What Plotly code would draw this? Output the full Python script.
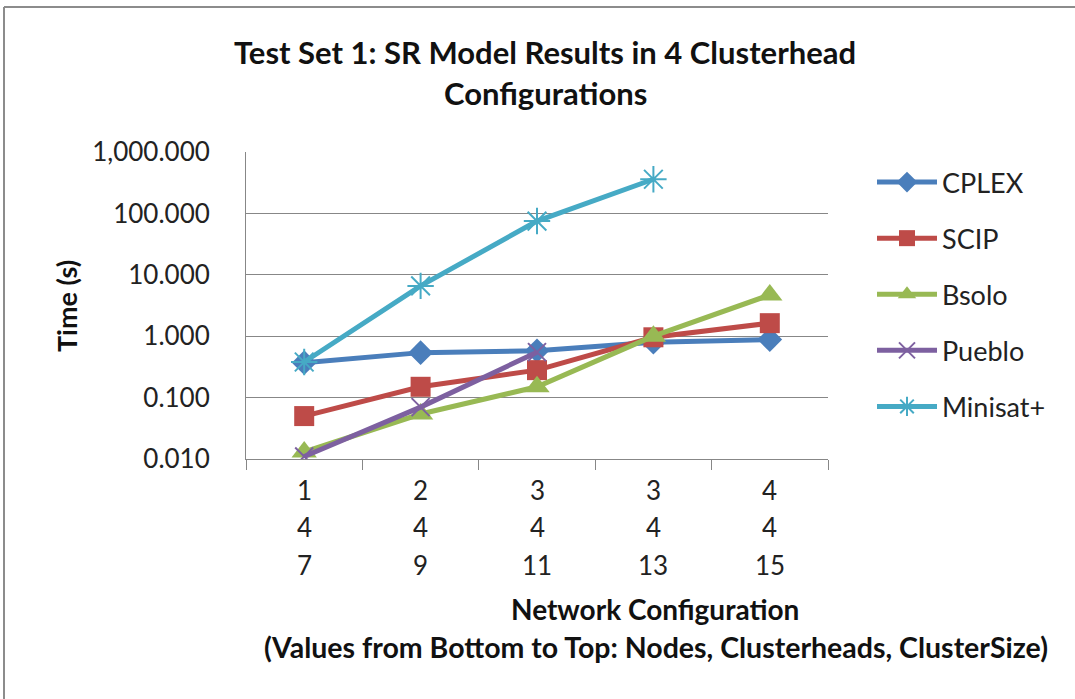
import plotly.graph_objects as go

# ---- data ----
configs = [1, 2, 3, 4, 5]
cluster_size = ["1", "2", "3", "3", "4"]
clusterheads = ["4", "4", "4", "4", "4"]
nodes = ["7", "9", "11", "13", "15"]

cplex = [0.37, 0.54, 0.58, 0.80, 0.88]
scip = [0.050, 0.15, 0.28, 0.96, 1.63]
bsolo = [0.013, 0.054, 0.15, 1.0, 4.7]
pueblo = [0.011, 0.070, 0.55, None, None]
minisat = [0.38, 6.6, 75, 360, None]

y_tickvals = [0.01, 0.1, 1, 10, 100, 1000]
y_ticktext = ["0.010", "0.100", "1.000", "10.000", "100.000", "1,000.000"]

FONT = "Lato, 'Open Sans', sans-serif"
W, H = 1075, 699
L, R, T, B = 246, 828, 152, 459
pw, ph = R - L, B - T

def px_x(p):
    return (p - L) / pw

def px_y(p):
    return (B - p) / ph

series = [
    ("CPLEX", cplex, "#4A7EBB", "diamond", 19, 0),
    ("SCIP", scip, "#BE4B48", "square", 20, 0),
    ("Bsolo", bsolo, "#98B954", "triangle-up", 22, 0),
    ("Pueblo", pueblo, "#7D60A0", "x-thin", 18, 2),
    ("Minisat+", minisat, "#46AAC5", "asterisk", 22, 2),
]

fig = go.Figure()
for name, vals, col, sym, size, mlw in series:
    fig.add_trace(go.Scatter(
        x=configs, y=vals, name=name, mode="lines+markers",
        line=dict(color=col, width=5),
        marker=dict(symbol=sym, size=size, color=col,
                    line=dict(color=col, width=mlw)),
        legendgroup=name,
        connectgaps=False,
    ))

annotations = []
rows = [(cluster_size, 490), (clusterheads, 527), (nodes, 565)]
for labels, ypix in rows:
    for xv, lab in zip(configs, labels):
        annotations.append(dict(
            x=xv, xref="x", y=px_y(ypix), yref="paper", text=lab,
            showarrow=False, font=dict(family=FONT, size=26, color="#222222"),
            xanchor="center", yanchor="middle"))

annotations += [
    dict(x=px_x(545), y=px_y(52), xref="paper", yref="paper",
         text="<b>Test Set 1: SR Model Results in 4 Clusterhead</b>",
         showarrow=False, font=dict(family=FONT, size=31, color="#111111"),
         xanchor="center", yanchor="middle"),
    dict(x=px_x(545), y=px_y(93), xref="paper", yref="paper",
         text="<b>Configurations</b>",
         showarrow=False, font=dict(family=FONT, size=31, color="#111111"),
         xanchor="center", yanchor="middle"),
    dict(x=px_x(655), y=px_y(609), xref="paper", yref="paper",
         text="<b>Network Configuration</b>",
         showarrow=False, font=dict(family=FONT, size=28, color="#111111"),
         xanchor="center", yanchor="middle"),
    dict(x=px_x(656), y=px_y(647), xref="paper", yref="paper",
         text="<b>(Values from Bottom to Top: Nodes, Clusterheads, ClusterSize)</b>",
         showarrow=False, font=dict(family=FONT, size=28.5, color="#111111"),
         xanchor="center", yanchor="middle"),
    dict(x=px_x(66), y=px_y(306), xref="paper", yref="paper",
         text="<b>Time (s)</b>", textangle=-90,
         showarrow=False, font=dict(family=FONT, size=27, color="#111111"),
         xanchor="center", yanchor="middle"),
]

border = dict(color="#8C8C8C", width=2)
fig.update_layout(
    width=W, height=H,
    margin=dict(l=L, r=W - R, t=T, b=H - B),
    paper_bgcolor="white", plot_bgcolor="white",
    showlegend=True,
    legend=dict(x=px_x(872), y=px_y(158), xanchor="left", yanchor="top",
                font=dict(family=FONT, size=27, color="#222222"),
                tracegroupgap=18, itemwidth=60, bgcolor="rgba(0,0,0,0)"),
    annotations=annotations,
    shapes=[
        dict(type="line", xref="paper", yref="paper",
             x0=px_x(4), x1=px_x(1075), y0=px_y(7), y1=px_y(7), line=border),
        dict(type="line", xref="paper", yref="paper",
             x0=px_x(4), x1=px_x(4), y0=px_y(7), y1=px_y(699), line=border),
    ],
)

fig.update_xaxes(
    range=[0.5, 5.5], tickmode="linear", tick0=0.5, dtick=1,
    showticklabels=False, ticks="outside", ticklen=10, tickcolor="#878787",
    showgrid=False, showline=True, linecolor="#878787", linewidth=1,
    zeroline=False,
)
fig.update_yaxes(
    type="log", range=[-2, 3], tickvals=y_tickvals, ticktext=y_ticktext,
    tickfont=dict(family=FONT, size=26, color="#222222"),
    ticks="", ticklabelstandoff=30,
    showgrid=True, gridcolor="#878787", gridwidth=1,
    showline=True, linecolor="#878787", linewidth=1, zeroline=False,
)

fig.write_html("out.html", config={"displayModeBar": False},
               post_script="document.body.style.margin='0';")
